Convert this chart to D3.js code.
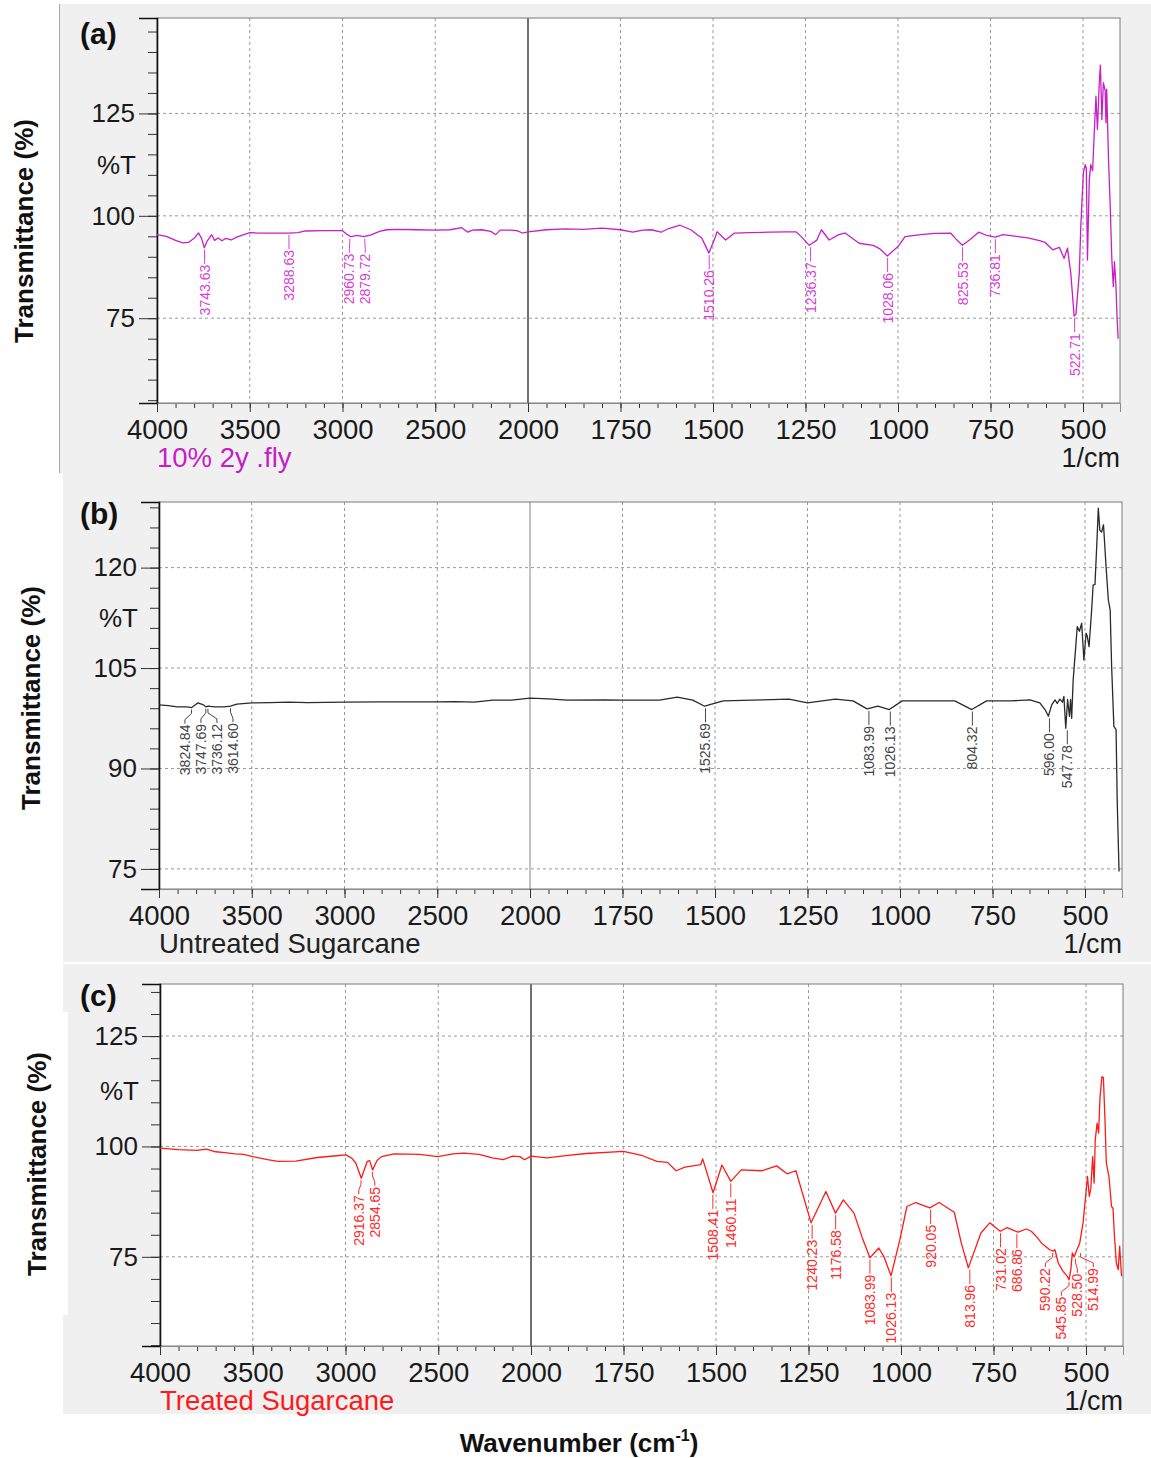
<!DOCTYPE html>
<html lang="en">
<head>
<meta charset="UTF-8">
<title>FTIR spectra</title>
<style>
  body { margin: 0; background: #fff; }
  svg text { font-family: "Liberation Sans", Arial, sans-serif; }
</style>
</head>
<body>
<div id="chart"></div>
<script src="https://d3js.org/d3.v7.min.js"></script>
<script>

// ---------------- data ----------------

// x tick labels (1/cm), same for every panel
const xTickLabels = [4000, 3500, 3000, 2500, 2000, 1750, 1500, 1250, 1000, 750, 500];

// y tick labels
const yTicksA = [75, 100, 125];
const yTicksB = [75, 90, 105, 120];
const yTicksC = [75, 100, 125];

const sampleNames = ["10% 2y .fly", "Untreated Sugarcane", "Treated Sugarcane"];
const panelTags = ["(a)", "(b)", "(c)"];

// (a) 10% 2y .fly : wavenumber / %T
const wnA = [4000, 3950, 3900, 3860, 3830, 3800, 3776, 3760, 3745, 3730, 3705, 3690, 3670, 3650, 3630, 3600,
  3570, 3540, 3500, 3450, 3400, 3316, 3290, 3240, 3200, 3100, 3002, 2980, 2955, 2920, 2886, 2850, 2800, 2761,
  2700, 2600, 2500, 2420, 2357, 2325, 2300, 2250, 2200, 2174, 2150, 2100, 2060, 2030, 2000, 1950, 1900,
  1850, 1800, 1750, 1717, 1690, 1667, 1640, 1620, 1589, 1560, 1530, 1511, 1495, 1489, 1466, 1442, 1400,
  1350, 1300, 1276, 1260, 1240, 1220, 1207, 1186, 1160, 1143, 1105, 1067, 1050, 1029, 1000, 981, 939,
  900, 858, 845, 826, 805, 782, 760, 744, 737, 716, 680, 649, 620, 602, 582, 564, 551, 542, 533, 524, 519,
  510, 506, 499, 494, 491, 488, 483, 479, 474, 470, 465, 461, 456, 453, 449, 445, 440, 438, 436, 431,
  427, 422, 418, 415, 411, 408, 405];
const tA = [95.4, 95.0, 94.0, 93.4, 93.5, 94.5, 95.8, 94.5, 92.2, 93.8, 95.4, 94.0, 94.6, 93.9, 94.5, 94.1,
  94.8, 95.3, 95.9, 95.8, 95.8, 95.8, 95.8, 95.9, 96.3, 96.4, 96.4, 95.6, 94.9, 95.2, 94.9, 95.3, 96.2, 96.6,
  96.7, 96.6, 96.5, 96.6, 97.1, 96.0, 96.5, 96.6, 96.2, 95.4, 96.5, 96.5, 96.4, 95.8, 96.1, 96.6, 96.8,
  96.7, 97.0, 96.6, 96.0, 96.5, 96.6, 96.0, 96.9, 97.7, 96.6, 94.5, 90.9, 94.5, 96.1, 94.1, 95.8, 95.9,
  96.0, 96.1, 96.1, 94.8, 92.8, 94.0, 96.6, 94.1, 95.4, 95.8, 93.3, 92.8, 92.0, 90.2, 92.5, 94.9, 95.4,
  95.7, 95.8, 94.5, 92.8, 94.2, 96.0, 95.2, 94.9, 94.8, 95.4, 95.0, 94.6, 94.0, 93.5, 91.7, 92.3, 89.6, 92.1, 86.0, 75.5, 76.0,
  86.0, 97.4, 110.5, 112.5, 111.6, 89.2, 108.8, 112.5, 111.0, 119.4, 129.2, 121.1, 132.5, 136.8, 123.5, 132.5, 130.5, 122.7, 130.9, 113.7,
  103.9, 89.2, 82.7, 88.8, 83.0, 75.3, 70.0];
const peaksA = [3743.63, 3288.63, 2960.73, 2879.72, 1510.26, 1236.37, 1028.06, 825.53, 736.81, 522.71];

// (b) Untreated Sugarcane
const wnB = [4000, 3950, 3900, 3850, 3824, 3800, 3790, 3760, 3748, 3736, 3700, 3650, 3615, 3580, 3500, 3400,
  3300, 3200, 3000, 2800, 2600, 2500, 2400, 2300, 2200, 2100, 2000, 1950, 1900, 1800, 1750, 1650, 1602,
  1560, 1528, 1478, 1400, 1300, 1250, 1175, 1127, 1089, 1060, 1029, 994, 900, 852, 806, 766, 700, 649,
  622, 608, 599, 590, 581, 575, 568, 561, 557, 552, 547, 542, 539, 536, 532, 525, 521, 515, 509, 503,
  497, 494, 489, 482, 478, 473, 468, 464, 460, 455, 450, 443, 437, 432, 428, 422, 416, 413, 408];
const tB = [99.5, 99.4, 99.2, 99.2, 99.1, 99.6, 99.8, 99.5, 99.2, 99.3, 99.2, 99.2, 99.3, 99.6, 99.8, 99.85,
  99.9, 99.85, 99.9, 99.95, 99.95, 99.95, 100.0, 99.9, 100.2, 100.2, 100.5, 100.4, 100.2, 100.25, 100.2, 100.2, 100.65,
  100.2, 99.3, 100.1, 100.2, 100.35, 99.8, 100.35, 100.1, 98.9, 99.3, 98.8, 100.1, 100.1, 100.1, 98.8, 100.1, 100.1, 100.25,
  99.8, 98.8, 97.8, 99.5, 100.25, 99.7, 100.35, 99.9, 100.75, 96.0, 100.3, 97.8, 100.3, 97.5, 103.2, 108.2, 111.2, 110.5, 111.7, 106.2,
  110.2, 109.8, 108.2, 113.7, 117.4, 117.5, 123.6, 128.9, 125.6, 125.3, 126.4, 120.1, 115.2, 113.7, 105.2, 96.3, 95.8, 85.3, 74.6];
const peaksB = [3824.84, 3747.69, 3736.12, 3614.60, 1525.69, 1083.99, 1026.13, 804.32, 596.00, 547.78];

// (c) Treated Sugarcane
const wnC = [4000, 3900, 3800, 3750, 3700, 3650, 3595, 3550, 3500, 3420, 3364, 3268, 3152, 3050, 2998, 2965,
  2944, 2915, 2883, 2870, 2854, 2830, 2806, 2738, 2600, 2503, 2420, 2362, 2280, 2208, 2150, 2100, 2060,
  2035, 2000, 1957, 1900, 1850, 1750, 1698, 1660, 1631, 1608, 1584, 1541, 1536, 1508, 1484, 1460, 1432,
  1375, 1336, 1308, 1284, 1243, 1203, 1177, 1156, 1127, 1103, 1084, 1060, 1046, 1027, 1003, 984, 960,
  922, 897, 856, 837, 818, 784, 760, 732, 713, 684, 661, 648, 632, 620, 598, 589, 584, 575, 562, 550,
  546, 541, 537, 532, 526, 517, 508, 501, 496, 491, 487, 482, 478, 475, 470, 466, 462, 457, 453, 449,
  445, 438, 431, 427, 423, 418, 413, 409, 404];
const tC = [99.6, 99.3, 99.1, 99.4, 98.8, 98.6, 98.3, 98.2, 97.7, 97.0, 96.6, 96.7, 97.5, 97.9, 98.1, 97.3,
  96.2, 92.8, 96.6, 96.8, 94.7, 96.8, 97.7, 98.3, 98.2, 97.7, 98.3, 98.5, 98.2, 97.4, 97.0, 97.8, 97.7,
  97.0, 97.8, 97.4, 98.0, 98.4, 98.9, 97.9, 96.6, 96.4, 94.5, 95.3, 95.9, 97.2, 89.5, 95.8, 92.1, 94.7,
  94.5, 95.6, 93.8, 94.5, 82.7, 89.8, 84.9, 87.9, 84.9, 78.9, 74.8, 77.0, 75.0, 70.7, 78.9, 86.4, 87.3,
  86.1, 87.3, 85.1, 78.1, 72.5, 80.4, 82.7, 80.8, 81.6, 80.6, 81.3, 80.8, 79.4, 78.1, 76.6, 76.3, 76.6, 73.6, 71.7, 70.5,
  69.8, 72.1, 75.9, 75.0, 76.3, 78.1, 82.7, 88.7, 93.2, 88.7, 90.5, 97.7, 91.7, 101.5, 105.3, 103.0, 111.3, 115.8, 115.6, 106.8,
  96.2, 93.2, 86.4, 86.0, 79.6, 73.6, 72.1, 77.4, 70.6];
const peaksC = [2916.37, 2854.65, 1508.41, 1460.11, 1240.23, 1176.58, 1083.99, 1026.13, 920.05, 813.96,
  731.02, 686.86, 590.22, 545.85, 528.50, 514.99];

// ---------------- layout ----------------

const W = 1151, H = 1458;
const FONT = "'Liberation Sans', Arial, sans-serif";
const svg = d3.select("#chart").append("svg")
  .attr("width", W)
  .attr("height", H);

const panels = [
  { tag: panelTags[0], name: sampleNames[0], wn: wnA, t: tA, peaks: peaksA, yTicks: yTicksA,
    yDomain: [54.3, 148.3], yStep: 5, box: [60, 4, 1091, 469], left: 157, top: 18, bottom: 403,
    line: "#c81ec8", peakColor: "#d640d6", nameColor: "#c41ec4", divider: "#111", tagY: 44, titleX: 33, titleY: 231 },
  { tag: panelTags[1], name: sampleNames[1], wn: wnB, t: tB, peaks: peaksB, yTicks: yTicksB,
    yDomain: [72, 129.8], yStep: 3, box: [63, 473, 1088, 489], left: 159, top: 502, bottom: 889,
    line: "#2a2a2a", peakColor: "#444", nameColor: "#222", divider: "#9a9a9a", tagY: 524, titleX: 40, titleY: 698 },
  { tag: panelTags[2], name: sampleNames[2], wn: wnC, t: tC, peaks: peaksC, yTicks: yTicksC,
    yDomain: [54.8, 136.8], yStep: 5, box: [63, 964, 1088, 450], left: 160, top: 984, bottom: 1346,
    line: "#ff1a1a", peakColor: "#ff2a2a", nameColor: "#ff1a1a", divider: "#111", tagY: 1006, titleX: 46, titleY: 1164 }
];

panels.forEach(function (p, i) {
  const g = svg.append("g");

  // grey panel background
  g.append("rect")
    .attr("x", p.box[0]).attr("y", p.box[1])
    .attr("width", p.box[2]).attr("height", p.box[3])
    .attr("fill", "#f0f0f0");
  if (i === 0) {
    g.append("line")
      .attr("x1", 59.5).attr("x2", 59.5).attr("y1", p.box[1]).attr("y2", p.box[1] + p.box[3])
      .attr("stroke", "#a8a8a8");
  }

  // x scale changes slope at 2000 1/cm, like the instrument software
  const x = d3.scaleLinear()
    .domain([4000, 2000, 400])
    .range([p.left, p.left + 371, p.left + 371 + 592]);
  const right = x(400);
  const y = d3.scaleLinear().domain(p.yDomain).range([p.bottom, p.top]);

  // plot area
  g.append("rect")
    .attr("x", p.left).attr("y", p.top)
    .attr("width", right - p.left).attr("height", p.bottom - p.top)
    .attr("fill", "#fff");

  // dashed grid
  g.selectAll(".vgrid")
    .data(xTickLabels.filter(d => d !== 4000 && d !== 2000))
    .join("line")
    .attr("x1", d => x(d)).attr("x2", d => x(d))
    .attr("y1", p.top).attr("y2", p.bottom)
    .attr("stroke", "#9a9a9a").attr("stroke-dasharray", "3,3");
  g.selectAll(".hgrid")
    .data(p.yTicks)
    .join("line")
    .attr("x1", p.left).attr("x2", right)
    .attr("y1", d => y(d)).attr("y2", d => y(d))
    .attr("stroke", "#9a9a9a").attr("stroke-dasharray", "3,3");

  // solid line at 2000 where the scale changes
  g.append("line")
    .attr("x1", x(2000)).attr("x2", x(2000))
    .attr("y1", p.top).attr("y2", p.bottom)
    .attr("stroke", p.divider).attr("stroke-width", 1.2);

  // frame
  g.append("rect")
    .attr("x", p.left).attr("y", p.top)
    .attr("width", right - p.left).attr("height", p.bottom - p.top)
    .attr("fill", "none").attr("stroke", "#7a7a7a");

  // y axis: minor ticks, then labelled ticks
  const yMinor = d3.range(Math.ceil(p.yDomain[0] / p.yStep) * p.yStep, p.yDomain[1], p.yStep);
  g.append("g")
    .attr("transform", `translate(${p.left},0)`)
    .call(d3.axisLeft(y).tickValues(yMinor).tickSize(9))
    .call(a => a.select(".domain").remove())
    .call(a => a.selectAll("text").remove())
    .call(a => a.selectAll("line").attr("stroke", "#333"));
  g.append("g")
    .attr("transform", `translate(${p.left},0)`)
    .call(d3.axisLeft(y).tickValues(p.yTicks).tickSize(18).tickPadding(4))
    .call(a => a.select(".domain").attr("stroke", "#111").attr("stroke-width", 1.6))
    .call(a => a.selectAll("line").attr("stroke", "#333"))
    .call(a => a.selectAll("text")
      .attr("font-size", 26).attr("fill", "#1a1a1a")
      .style("font-family", FONT));

  // %T sits half way between the top two labels
  const tPos = (p.yTicks[p.yTicks.length - 1] + p.yTicks[p.yTicks.length - 2]) / 2;
  g.append("text")
    .attr("x", p.left - 21).attr("y", y(tPos))
    .attr("dy", "0.35em").attr("text-anchor", "end")
    .attr("font-size", 26).attr("fill", "#1a1a1a")
    .text("%T");

  // x axis: minor ticks (100 left of 2000, 50 right of it), then labelled ticks
  const xMinor = d3.range(4000, 2000, -100).concat(d3.range(2000, 400, -50));
  g.append("g")
    .attr("transform", `translate(0,${p.bottom})`)
    .call(d3.axisBottom(x).tickValues(xMinor).tickSize(5))
    .call(a => a.select(".domain").remove())
    .call(a => a.selectAll("text").remove())
    .call(a => a.selectAll("line").attr("stroke", "#333"));
  g.append("g")
    .attr("transform", `translate(0,${p.bottom})`)
    .call(d3.axisBottom(x).tickValues(xTickLabels).tickSize(9).tickPadding(7).tickFormat(d3.format("d")))
    .call(a => a.select(".domain").attr("stroke", "#8a8a8a"))
    .call(a => a.selectAll("line").attr("stroke", "#333"))
    .call(a => a.selectAll("text")
      .attr("font-size", 27.5).attr("fill", "#1a1a1a")
      .style("font-family", FONT));

  // spectrum
  const data = p.wn.map((w, k) => [w, p.t[k]]);
  g.append("path")
    .datum(data)
    .attr("d", d3.line().x(d => x(d[0])).y(d => y(d[1])))
    .attr("fill", "none")
    .attr("stroke", p.line)
    .attr("stroke-width", 1.3)
    .attr("stroke-linejoin", "round");

  // peak labels: anchor at the deepest point near each peak, spread so they don't overlap
  const labs = p.peaks.map(pk => {
    const near = data.filter(d => Math.abs(d[0] - pk) <= 12);
    let v;
    if (near.length) {
      v = d3.min(near, d => d[1]);
    } else {
      const k = data.findIndex(d => d[0] < pk);
      const a = data[k - 1], b = data[k];
      v = a[1] + (b[1] - a[1]) * (a[0] - pk) / (a[0] - b[0]);
    }
    return { pk: pk, px: x(pk), py: y(v), lx: x(pk) };
  }).sort((a, b) => a.px - b.px);
  const gap = 16;
  for (let it = 0; it < 60; it++) {
    for (let k = 1; k < labs.length; k++) {
      const over = gap - (labs[k].lx - labs[k - 1].lx);
      if (over > 0) {
        labs[k - 1].lx -= over / 2;
        labs[k].lx += over / 2;
      }
    }
  }
  labs.forEach(l => { l.ty = l.py + 17; });

  g.selectAll(".peakline")
    .data(labs)
    .join("path")
    .attr("d", l => `M${l.px},${l.py + 2}V${l.py + 6}L${l.lx},${l.ty - 5}V${l.ty - 1}`)
    .attr("fill", "none")
    .attr("stroke", p.peakColor)
    .attr("stroke-width", 1);
  g.selectAll(".peaktext")
    .data(labs)
    .join("text")
    .attr("transform", l => `translate(${l.lx + 5},${l.ty}) rotate(-90)`)
    .attr("text-anchor", "end")
    .attr("font-size", 14)
    .attr("fill", p.peakColor)
    .text(l => l.pk.toFixed(2));

  // sample name and unit
  g.append("text")
    .attr("x", p.left).attr("y", p.bottom + 64)
    .attr("font-size", 27.5).attr("fill", p.nameColor)
    .text(p.name);
  g.append("text")
    .attr("x", right).attr("y", p.bottom + 64)
    .attr("text-anchor", "end")
    .attr("font-size", 27).attr("fill", "#1a1a1a")
    .text("1/cm");

  // panel tag
  g.append("text")
    .attr("x", 80).attr("y", p.tagY)
    .attr("font-size", 30).attr("font-weight", "bold").attr("fill", "#111")
    .text(p.tag);
});

// white strip behind the lower y title, as in the figure
svg.append("rect")
  .attr("x", 0).attr("y", 1012).attr("width", 68).attr("height", 303)
  .attr("fill", "#fff");

// y titles
panels.forEach(function (p) {
  svg.append("text")
    .attr("transform", `translate(${p.titleX},${p.titleY}) rotate(-90)`)
    .attr("text-anchor", "middle")
    .attr("font-size", 26).attr("font-weight", "bold").attr("fill", "#111")
    .text("Transmittance (%)");
});

// x title
const xt = svg.append("text")
  .attr("x", 579).attr("y", 1452)
  .attr("text-anchor", "middle")
  .attr("font-size", 26).attr("font-weight", "bold").attr("fill", "#111");
xt.append("tspan").text("Wavenumber (cm");
xt.append("tspan").attr("font-size", 16).attr("dy", -11).text("-1");
xt.append("tspan").attr("dy", 11).text(")");

</script>
</body>
</html>
